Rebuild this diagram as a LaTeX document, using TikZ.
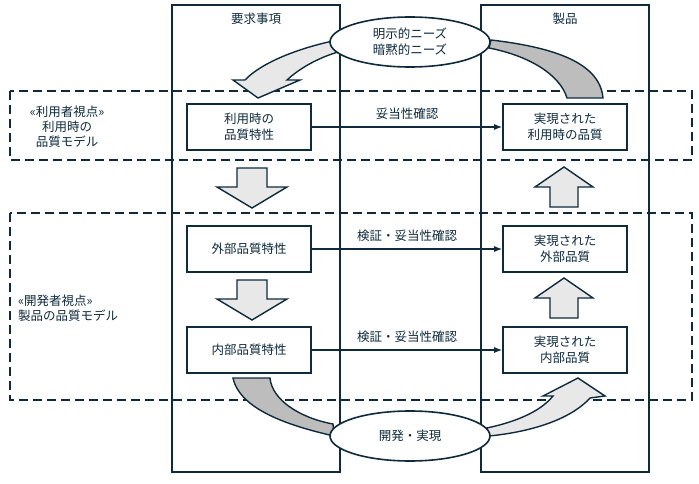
\documentclass[tikz,border=0pt]{standalone}
\usepackage{fontspec}
\setmainfont{Noto Sans CJK JP}
\usetikzlibrary{arrows.meta,shapes.geometric}
\definecolor{ink}{HTML}{0E2A3B}
\definecolor{lightfill}{HTML}{E8E8E8}
\definecolor{darkfill}{HTML}{BDBDBD}
\tikzset{
  column/.style={draw=ink,line width=1.6pt},
  view/.style={draw=ink,line width=1.6pt,dash pattern=on 9pt off 5pt},
  quality/.style={draw=ink,line width=1.6pt,fill=white,minimum width=124pt,minimum height=46pt,align=center,inner sep=2pt},
  needs/.style={ellipse,draw=ink,line width=1.6pt,fill=white,minimum width=160pt,minimum height=50pt,align=center,inner sep=0pt},
  check/.style={draw=ink,line width=1.2pt,-{Latex[length=8pt,width=6pt]}},
  block/.style={draw=ink,line width=1.4pt,fill=lightfill,line join=miter},
  dark block/.style={block,fill=darkfill},
  lbl/.style={font=\fontsize{12.5}{15}\selectfont,text=ink,inner sep=0pt,align=center}
}
\begin{document}
\begin{tikzpicture}[x=1pt,y=-1pt,every node/.append style={font=\fontsize{12.5}{16}\selectfont,text=ink}]
    \useasboundingbox (0,0) rectangle (699,484);
    % columns and viewpoints
    \draw[column] (172,5) rectangle (340,472);
    \draw[column] (481,5) rectangle (649,472);
    \node[lbl] (req) at (256,19) {要求事項};
    \node[lbl] (prod) at (565,19) {製品};
    \draw[view] (10,91) rectangle (692,160);
    \draw[view] (10,213) rectangle (692,400);
    \node[lbl] (useview) at (67,127) {«利用者視点»\\利用時の\\品質モデル};
    \node[lbl,align=left,anchor=west] (devview) at (18,308) {«開発者視点»\\製品の品質モデル};
    % quality boxes
    \node[quality] (useq)  at (249,127) {利用時の\\品質特性};
    \node[quality] (extq)  at (249,249) {外部品質特性};
    \node[quality] (intq)  at (249,350) {内部品質特性};
    \node[quality] (ruseq) at (565,127) {実現された\\利用時の品質};
    \node[quality] (rextq) at (565,249) {実現された\\外部品質};
    \node[quality] (rintq) at (565,350) {実現された\\内部品質};
    \foreach \src/\dst/\txt in {useq/ruseq/妥当性確認, extq/rextq/検証・妥当性確認, intq/rintq/検証・妥当性確認}
    \draw[check] (\src) -- node[above=3pt] {\txt} (\dst);
    % block arrows
    \foreach \cx/\ty in {252/168, 252/280}
    \draw[block] (\cx-15,\ty) -- (\cx+15,\ty) -- (\cx+15,\ty+19) -- (\cx+35,\ty+19) -- (\cx,\ty+40) -- (\cx-35,\ty+19) -- (\cx-15,\ty+19) -- cycle;
    \foreach \cx/\by in {564/207, 564/318}
    \draw[block] (\cx-14,\by) -- (\cx+14,\by) -- (\cx+14,\by-20) -- (\cx+29,\by-20) -- (\cx,\by-40) -- (\cx-29,\by-20) -- (\cx-14,\by-20) -- cycle;
    % curved arrows
    \draw[block] (333,41) .. controls (300,48) and (262,62) .. (245,80) -- (233,80) -- (258,98) -- (300,80) -- (287,80) .. controls (300,68) and (318,58) .. (338,52) -- cycle;
    \draw[dark block] (491,40) .. controls (560,48) and (600,65) .. (603,98) -- (567,98) .. controls (560,75) and (530,56) .. (489,48) -- cycle;
    \draw[dark block] (233,378) .. controls (240,410) and (290,426) .. (334,436) -- (333,424) .. controls (300,418) and (272,400) .. (270,378) -- cycle;
    \draw[block] (487,428) .. controls (515,422) and (540,412) .. (553,396) -- (543,396) -- (578,378) -- (605,396) -- (590,398) .. controls (570,420) and (530,432) .. (489,436) -- cycle;
    % needs and development
    \node[needs] (stated) at (410,42) {明示的ニーズ\\暗黙的ニーズ};
    \node[needs] (dev) at (410,436) {開発・実現};
\end{tikzpicture}
\end{document}
